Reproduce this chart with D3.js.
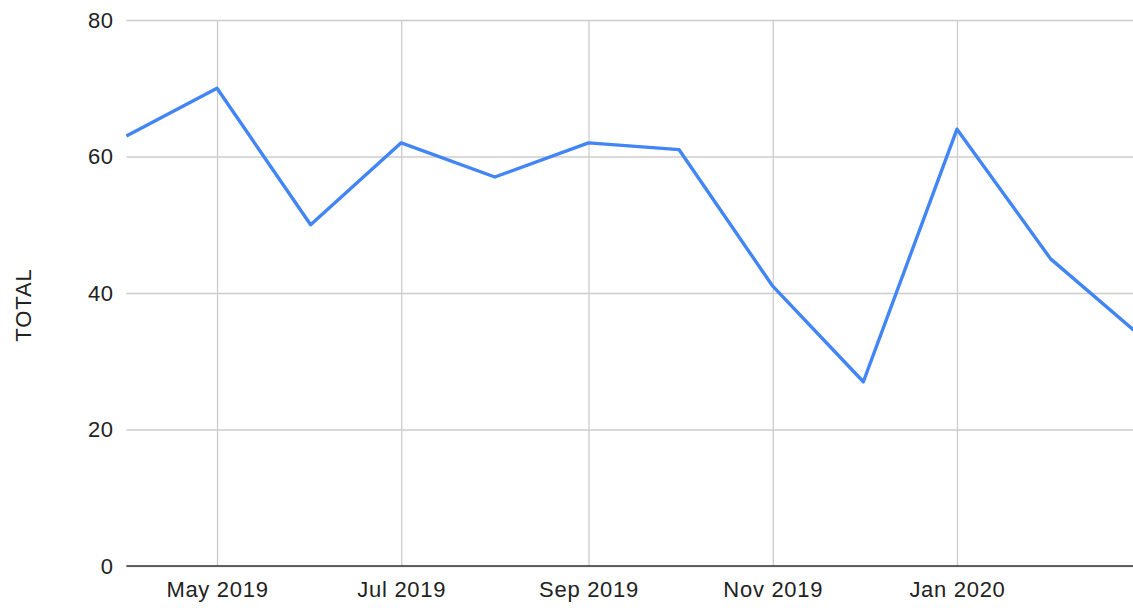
<!DOCTYPE html>
<html>
<head>
<meta charset="utf-8">
<script src="https://cdn.jsdelivr.net/npm/d3@7/dist/d3.min.js"></script>
<style>
  html, body { margin: 0; padding: 0; background: #fff; }
  svg { display: block; }
  text { font-family: "Liberation Sans", Arial, sans-serif; fill: #222; }
</style>
</head>
<body>
<svg id="chart" width="1133" height="608"></svg>
<script>
const months = ["2019-04-01","2019-05-01","2019-06-01","2019-07-01","2019-08-01","2019-09-01","2019-10-01","2019-11-01","2019-12-01","2020-01-01","2020-02-01","2020-03-01"];
const totals = [63, 70, 50, 62, 57, 62, 61, 41, 27, 64, 45, 34];
const xTickDates = ["2019-05-01","2019-07-01","2019-09-01","2019-11-01","2020-01-01"];
const yTicks = [0, 20, 40, 60, 80];
const yLabel = "TOTAL";

(function () {
const parse = d3.utcParse("%Y-%m-%d");
const fmt = d3.utcFormat("%b %Y");
const data = months.map((m, i) => ({ date: parse(m), value: totals[i] }));

const svg = d3.select("#chart");
const W = 1133, H = 608;
const mLeft = 126.4, mTop = 20, mBottom = 566;

const x = d3.scaleUtc()
  .domain([parse("2019-04-01"), parse("2020-03-01")])
  .range([mLeft, 1138.2]);
const y = d3.scaleLinear().domain([0, 80]).range([mBottom, mTop]);

svg.append("defs").append("clipPath").attr("id", "plotclip")
  .append("rect").attr("x", mLeft - 2).attr("y", 0).attr("width", W - mLeft + 2).attr("height", H);

const yAxis = d3.axisLeft(y).tickValues(yTicks).tickSize(-(W - mLeft)).tickPadding(13).tickFormat(d3.format("d"));
const gy = svg.append("g").attr("transform", `translate(${mLeft},0)`).call(yAxis);
gy.select(".domain").remove();
gy.selectAll(".tick line").attr("stroke", "#cccccc").attr("stroke-width", 1.3);
gy.selectAll(".tick text").attr("font-size", 22).attr("fill", "#222").attr("letter-spacing", "0.4px");

const xAxis = d3.axisBottom(x).tickValues(xTickDates.map(parse)).tickSize(-(mBottom - mTop)).tickPadding(12).tickFormat(fmt);
const gx = svg.append("g").attr("transform", `translate(0,${mBottom})`).call(xAxis);
gx.select(".domain").remove();
gx.selectAll(".tick line").attr("stroke", "#cccccc").attr("stroke-width", 1.3);
gx.selectAll(".tick text").attr("font-size", 22).attr("fill", "#222").attr("dy", "0.88em").attr("letter-spacing", "0.7px");

svg.append("line").attr("x1", mLeft).attr("x2", W).attr("y1", y(0)).attr("y2", y(0))
  .attr("stroke", "#333").attr("stroke-width", 1.6);

const line = d3.line().x(d => x(d.date)).y(d => y(d.value));
svg.append("path").datum(data)
  .attr("clip-path", "url(#plotclip)")
  .attr("d", line)
  .attr("fill", "none")
  .attr("stroke", "#4285f4")
  .attr("stroke-width", 3.4)
  .attr("stroke-linejoin", "round");

svg.append("text")
  .attr("transform", `translate(31,${(mTop + mBottom) / 2 + 12}) rotate(-90)`)
  .attr("text-anchor", "middle")
  .attr("font-size", 22)
  .attr("letter-spacing", "0.9px")
  .text(yLabel);
})();
</script>
</body>
</html>
